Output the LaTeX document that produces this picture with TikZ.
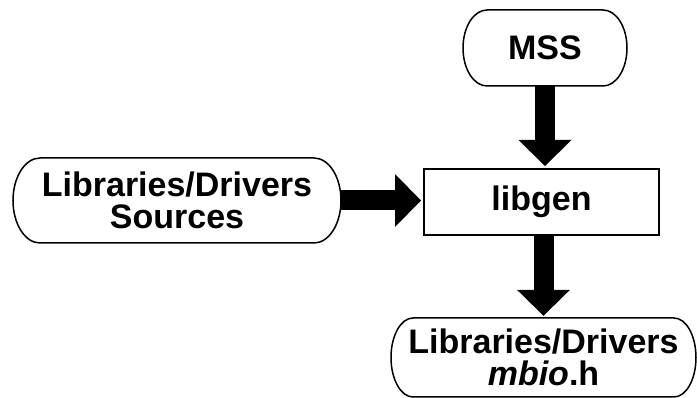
\documentclass[tikz,border=0pt]{standalone}
\usepackage{fontspec}
\setmainfont{Liberation Sans}
\usetikzlibrary{arrows.meta}

\tikzset{
  boxfont/.style={font=\fontsize{34}{32}\selectfont\bfseries},
  termnode/.style={boxfont, rectangle, inner sep=0pt, align=center},
  procnode/.style={boxfont, rectangle, draw, line width=2pt, inner sep=0pt, align=center},
  fatarrow/.style={line width=20pt, -{Triangle[width=53pt,length=26pt,line width=0pt]}, shorten >=2pt}
}

\begin{document}
\begin{tikzpicture}[x=1pt,y=1pt,yscale=-1,xscale=1]
\useasboundingbox (0,0) rectangle (697,398);

%Rounded Rect: MSS
\draw [line width=1.5]  (487,10) -- (603,10) arc[start angle=-90,end angle=90,x radius=24,y radius=38] -- (487,86) arc[start angle=90,end angle=270,x radius=24,y radius=38] -- cycle ;
%Rounded Rect: sources
\draw [line width=1.5]  (40,158) -- (314,158) arc[start angle=-90,end angle=90,x radius=27,y radius=42.5] -- (40,243) arc[start angle=90,end angle=270,x radius=27,y radius=42.5] -- cycle ;
%Rounded Rect: mbio.h
\draw [line width=1.5]  (413,318) -- (674,318) arc[start angle=-90,end angle=90,x radius=22,y radius=39.5] -- (413,397) arc[start angle=90,end angle=270,x radius=22,y radius=39.5] -- cycle ;

% Text Node
\draw (545,48) node (mss) [termnode, minimum width=164pt, minimum height=76pt] {MSS};
% Text Node
\draw (177,200.5) node (src) [termnode, minimum width=328pt, minimum height=85pt] {Libraries/Drivers\\Sources};
% Text Node
\draw (541.5,202) node (libgen) [procnode, minimum width=235pt, minimum height=66pt] {libgen};
% Text Node
\draw (543.5,357.5) node (lib) [termnode, minimum width=305pt, minimum height=79pt] {Libraries/Drivers\\\textit{mbio}.h};

%Block Arrows
\draw [fatarrow] (mss) -- (mss |- libgen.north);
\draw [fatarrow] (src) -- (src -| libgen.west);
\draw [fatarrow] (libgen.south -| lib) -- (lib);

\end{tikzpicture}
\end{document}
